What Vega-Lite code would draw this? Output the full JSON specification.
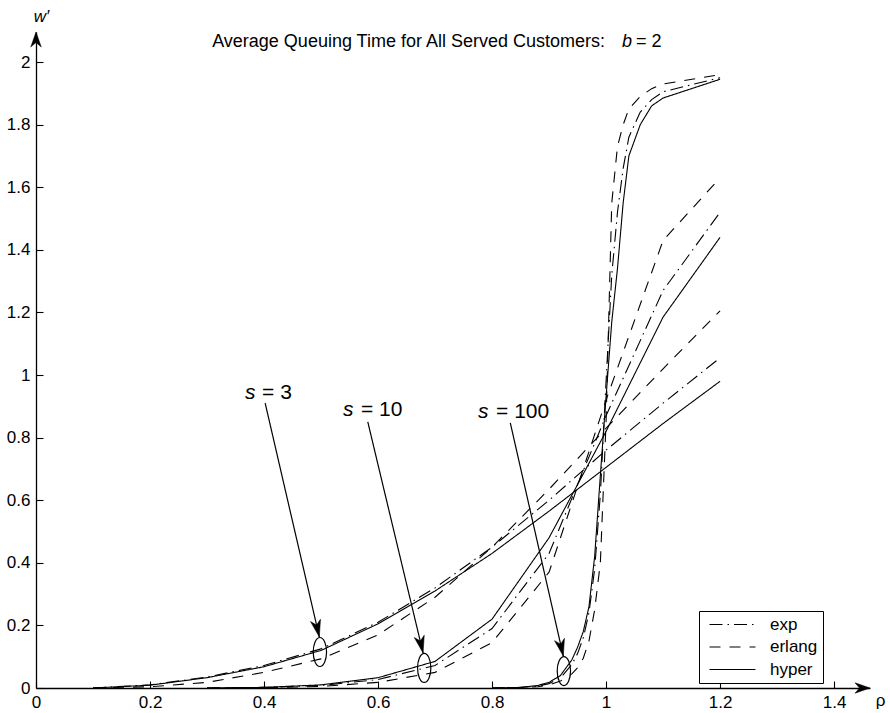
{
  "$schema": "https://vega.github.io/schema/vega-lite/v6.json",
  "width": 834,
  "height": 656,
  "autosize": {"type": "none"},
  "padding": {"left": 36, "top": 32, "right": 20, "bottom": 25},
  "background": "white",
  "config": {"view": {"stroke": null}, "font": "Liberation Sans"},
  "datasets": {
    "curves": [
      {"s": "3", "dist": "hyper", "rho": 0.1, "w": 0},
      {"s": "3", "dist": "hyper", "rho": 0.2, "w": 0.009},
      {"s": "3", "dist": "hyper", "rho": 0.3, "w": 0.033},
      {"s": "3", "dist": "hyper", "rho": 0.4, "w": 0.068},
      {"s": "3", "dist": "hyper", "rho": 0.5, "w": 0.12},
      {"s": "3", "dist": "hyper", "rho": 0.6, "w": 0.205},
      {"s": "3", "dist": "hyper", "rho": 0.7, "w": 0.31},
      {"s": "3", "dist": "hyper", "rho": 0.8, "w": 0.43},
      {"s": "3", "dist": "hyper", "rho": 0.9, "w": 0.565},
      {"s": "3", "dist": "hyper", "rho": 1.0, "w": 0.705},
      {"s": "3", "dist": "hyper", "rho": 1.1, "w": 0.845},
      {"s": "3", "dist": "hyper", "rho": 1.2, "w": 0.98},
      {"s": "3", "dist": "exp", "rho": 0.1, "w": 0},
      {"s": "3", "dist": "exp", "rho": 0.2, "w": 0.01},
      {"s": "3", "dist": "exp", "rho": 0.3, "w": 0.035},
      {"s": "3", "dist": "exp", "rho": 0.4, "w": 0.072},
      {"s": "3", "dist": "exp", "rho": 0.5, "w": 0.125},
      {"s": "3", "dist": "exp", "rho": 0.6, "w": 0.21},
      {"s": "3", "dist": "exp", "rho": 0.7, "w": 0.32},
      {"s": "3", "dist": "exp", "rho": 0.8, "w": 0.45},
      {"s": "3", "dist": "exp", "rho": 0.9, "w": 0.6},
      {"s": "3", "dist": "exp", "rho": 1.0, "w": 0.76},
      {"s": "3", "dist": "exp", "rho": 1.1, "w": 0.91},
      {"s": "3", "dist": "exp", "rho": 1.2, "w": 1.055},
      {"s": "3", "dist": "erlang", "rho": 0.1, "w": 0},
      {"s": "3", "dist": "erlang", "rho": 0.2, "w": 0.004},
      {"s": "3", "dist": "erlang", "rho": 0.3, "w": 0.018},
      {"s": "3", "dist": "erlang", "rho": 0.4, "w": 0.05},
      {"s": "3", "dist": "erlang", "rho": 0.5, "w": 0.093},
      {"s": "3", "dist": "erlang", "rho": 0.6, "w": 0.17},
      {"s": "3", "dist": "erlang", "rho": 0.7, "w": 0.29},
      {"s": "3", "dist": "erlang", "rho": 0.8, "w": 0.45},
      {"s": "3", "dist": "erlang", "rho": 0.9, "w": 0.635},
      {"s": "3", "dist": "erlang", "rho": 1.0, "w": 0.83},
      {"s": "3", "dist": "erlang", "rho": 1.1, "w": 1.02},
      {"s": "3", "dist": "erlang", "rho": 1.2, "w": 1.205},
      {"s": "10", "dist": "hyper", "rho": 0.3, "w": 0},
      {"s": "10", "dist": "hyper", "rho": 0.4, "w": 0.002},
      {"s": "10", "dist": "hyper", "rho": 0.5, "w": 0.01},
      {"s": "10", "dist": "hyper", "rho": 0.6, "w": 0.033},
      {"s": "10", "dist": "hyper", "rho": 0.7, "w": 0.085},
      {"s": "10", "dist": "hyper", "rho": 0.8, "w": 0.22},
      {"s": "10", "dist": "hyper", "rho": 0.9, "w": 0.48},
      {"s": "10", "dist": "hyper", "rho": 1.0, "w": 0.82},
      {"s": "10", "dist": "hyper", "rho": 1.1, "w": 1.185},
      {"s": "10", "dist": "hyper", "rho": 1.2, "w": 1.44},
      {"s": "10", "dist": "exp", "rho": 0.3, "w": 0},
      {"s": "10", "dist": "exp", "rho": 0.4, "w": 0.002},
      {"s": "10", "dist": "exp", "rho": 0.5, "w": 0.008},
      {"s": "10", "dist": "exp", "rho": 0.6, "w": 0.027},
      {"s": "10", "dist": "exp", "rho": 0.7, "w": 0.072},
      {"s": "10", "dist": "exp", "rho": 0.8, "w": 0.19},
      {"s": "10", "dist": "exp", "rho": 0.9, "w": 0.43},
      {"s": "10", "dist": "exp", "rho": 1.0, "w": 0.87},
      {"s": "10", "dist": "exp", "rho": 1.1, "w": 1.27},
      {"s": "10", "dist": "exp", "rho": 1.2, "w": 1.52},
      {"s": "10", "dist": "erlang", "rho": 0.3, "w": 0},
      {"s": "10", "dist": "erlang", "rho": 0.4, "w": 0.001},
      {"s": "10", "dist": "erlang", "rho": 0.5, "w": 0.005},
      {"s": "10", "dist": "erlang", "rho": 0.6, "w": 0.018},
      {"s": "10", "dist": "erlang", "rho": 0.7, "w": 0.05},
      {"s": "10", "dist": "erlang", "rho": 0.8, "w": 0.145},
      {"s": "10", "dist": "erlang", "rho": 0.9, "w": 0.37},
      {"s": "10", "dist": "erlang", "rho": 1.0, "w": 0.92},
      {"s": "10", "dist": "erlang", "rho": 1.1, "w": 1.43},
      {"s": "10", "dist": "erlang", "rho": 1.2, "w": 1.63},
      {"s": "100", "dist": "hyper", "rho": 0.8, "w": 0},
      {"s": "100", "dist": "hyper", "rho": 0.85, "w": 0.002},
      {"s": "100", "dist": "hyper", "rho": 0.88, "w": 0.008},
      {"s": "100", "dist": "hyper", "rho": 0.9, "w": 0.018},
      {"s": "100", "dist": "hyper", "rho": 0.92, "w": 0.04},
      {"s": "100", "dist": "hyper", "rho": 0.94, "w": 0.09},
      {"s": "100", "dist": "hyper", "rho": 0.95, "w": 0.13},
      {"s": "100", "dist": "hyper", "rho": 0.96, "w": 0.18},
      {"s": "100", "dist": "hyper", "rho": 0.97, "w": 0.26},
      {"s": "100", "dist": "hyper", "rho": 0.98, "w": 0.42},
      {"s": "100", "dist": "hyper", "rho": 0.99, "w": 0.68},
      {"s": "100", "dist": "hyper", "rho": 1.0, "w": 0.93},
      {"s": "100", "dist": "hyper", "rho": 1.01, "w": 1.17},
      {"s": "100", "dist": "hyper", "rho": 1.02, "w": 1.34},
      {"s": "100", "dist": "hyper", "rho": 1.03, "w": 1.55},
      {"s": "100", "dist": "hyper", "rho": 1.04, "w": 1.7},
      {"s": "100", "dist": "hyper", "rho": 1.06, "w": 1.8},
      {"s": "100", "dist": "hyper", "rho": 1.08, "w": 1.86},
      {"s": "100", "dist": "hyper", "rho": 1.1, "w": 1.885},
      {"s": "100", "dist": "hyper", "rho": 1.2, "w": 1.945},
      {"s": "100", "dist": "exp", "rho": 0.8, "w": 0},
      {"s": "100", "dist": "exp", "rho": 0.85, "w": 0.002},
      {"s": "100", "dist": "exp", "rho": 0.88, "w": 0.006},
      {"s": "100", "dist": "exp", "rho": 0.9, "w": 0.014},
      {"s": "100", "dist": "exp", "rho": 0.92, "w": 0.032},
      {"s": "100", "dist": "exp", "rho": 0.94, "w": 0.075},
      {"s": "100", "dist": "exp", "rho": 0.95, "w": 0.11},
      {"s": "100", "dist": "exp", "rho": 0.96, "w": 0.16},
      {"s": "100", "dist": "exp", "rho": 0.97, "w": 0.24},
      {"s": "100", "dist": "exp", "rho": 0.98, "w": 0.38},
      {"s": "100", "dist": "exp", "rho": 0.99, "w": 0.62},
      {"s": "100", "dist": "exp", "rho": 1.0, "w": 0.98},
      {"s": "100", "dist": "exp", "rho": 1.01, "w": 1.32},
      {"s": "100", "dist": "exp", "rho": 1.02, "w": 1.52},
      {"s": "100", "dist": "exp", "rho": 1.03, "w": 1.66},
      {"s": "100", "dist": "exp", "rho": 1.04, "w": 1.76},
      {"s": "100", "dist": "exp", "rho": 1.06, "w": 1.84},
      {"s": "100", "dist": "exp", "rho": 1.08, "w": 1.88},
      {"s": "100", "dist": "exp", "rho": 1.1, "w": 1.905},
      {"s": "100", "dist": "exp", "rho": 1.2, "w": 1.95},
      {"s": "100", "dist": "erlang", "rho": 0.8, "w": 0},
      {"s": "100", "dist": "erlang", "rho": 0.85, "w": 0.001},
      {"s": "100", "dist": "erlang", "rho": 0.88, "w": 0.004},
      {"s": "100", "dist": "erlang", "rho": 0.9, "w": 0.01},
      {"s": "100", "dist": "erlang", "rho": 0.92, "w": 0.022},
      {"s": "100", "dist": "erlang", "rho": 0.94, "w": 0.045},
      {"s": "100", "dist": "erlang", "rho": 0.95, "w": 0.065},
      {"s": "100", "dist": "erlang", "rho": 0.96, "w": 0.095},
      {"s": "100", "dist": "erlang", "rho": 0.97, "w": 0.15},
      {"s": "100", "dist": "erlang", "rho": 0.98, "w": 0.25},
      {"s": "100", "dist": "erlang", "rho": 0.99, "w": 0.4},
      {"s": "100", "dist": "erlang", "rho": 1.0, "w": 0.85},
      {"s": "100", "dist": "erlang", "rho": 1.01, "w": 1.55},
      {"s": "100", "dist": "erlang", "rho": 1.02, "w": 1.73},
      {"s": "100", "dist": "erlang", "rho": 1.03, "w": 1.8},
      {"s": "100", "dist": "erlang", "rho": 1.04, "w": 1.85},
      {"s": "100", "dist": "erlang", "rho": 1.06, "w": 1.89},
      {"s": "100", "dist": "erlang", "rho": 1.08, "w": 1.915},
      {"s": "100", "dist": "erlang", "rho": 1.1, "w": 1.93},
      {"s": "100", "dist": "erlang", "rho": 1.2, "w": 1.96}
    ],
    "ellipses": [
      {"s": "3", "rho": 0.498, "w": 0.115},
      {"s": "10", "rho": 0.681, "w": 0.064},
      {"s": "100", "rho": 0.926, "w": 0.054}
    ],
    "arrows": [
      {"s": "3", "end": "start", "rho": 0.402, "w": 0.91},
      {"s": "3", "end": "tip", "rho": 0.497, "w": 0.163},
      {"s": "10", "end": "start", "rho": 0.582, "w": 0.85},
      {"s": "10", "end": "tip", "rho": 0.679, "w": 0.112},
      {"s": "100", "end": "start", "rho": 0.832, "w": 0.847},
      {"s": "100", "end": "tip", "rho": 0.925, "w": 0.102}
    ],
    "axisArrows": [
      {"axis": "y", "rho": 0, "w": 2.096},
      {"axis": "x", "rho": 1.463, "w": 0}
    ],
    "texts": [
      {"role": "title", "label": "Average Queuing Time for All Served Customers:", "rho": 0.309, "w": 2.048},
      {"role": "titleVar", "label": "b", "rho": 1.028, "w": 2.048},
      {"role": "title", "label": "= 2", "rho": 1.0526, "w": 2.048},
      {"role": "annotVar", "label": "s", "rho": 0.3667, "w": 0.923},
      {"role": "annot", "label": "= 3", "rho": 0.3965, "w": 0.923},
      {"role": "annotVar", "label": "s", "rho": 0.5386, "w": 0.869},
      {"role": "annot", "label": "= 10", "rho": 0.57, "w": 0.869},
      {"role": "annotVar", "label": "s", "rho": 0.7754, "w": 0.863},
      {"role": "annot", "label": "= 100", "rho": 0.807, "w": 0.863}
    ]
  },
  "encoding": {
    "x": {
      "field": "rho",
      "type": "quantitative",
      "scale": {"domain": [0, 1.463], "nice": false, "zero": false},
      "axis": {
        "values": [0, 0.2, 0.4, 0.6, 0.8, 1, 1.2, 1.4],
        "format": "~g",
        "grid": false,
        "domainColor": "black",
        "domainWidth": 1.3,
        "tickColor": "black",
        "tickWidth": 1.1,
        "tickSize": -7,
        "labelPadding": 13,
        "labelFont": "Liberation Sans",
        "labelFontSize": 17,
        "labelColor": "black",
        "labelFlush": false,
        "title": "ρ",
        "titleFont": "Liberation Sans",
        "titleFontSize": 17,
        "titleFontWeight": "normal",
        "titleColor": "black",
        "titleAngle": 0,
        "titleAlign": "center",
        "titleBaseline": "middle",
        "titleX": 844,
        "titleY": 12
      }
    },
    "y": {
      "field": "w",
      "type": "quantitative",
      "scale": {"domain": [0, 2.096], "nice": false, "zero": false},
      "axis": {
        "values": [0, 0.2, 0.4, 0.6, 0.8, 1, 1.2, 1.4, 1.6, 1.8, 2],
        "format": "~g",
        "grid": false,
        "domainColor": "black",
        "domainWidth": 1.3,
        "tickColor": "black",
        "tickWidth": 1.1,
        "tickSize": -7,
        "labelPadding": 13,
        "labelFont": "Liberation Sans",
        "labelFontSize": 17,
        "labelColor": "black",
        "labelFlush": false,
        "title": "w′",
        "titleFont": "Liberation Sans",
        "titleFontSize": 17,
        "titleFontStyle": "italic",
        "titleFontWeight": "normal",
        "titleColor": "black",
        "titleAngle": 0,
        "titleAlign": "center",
        "titleBaseline": "middle",
        "titleX": 5,
        "titleY": -16
      }
    }
  },
  "layer": [
    {
      "data": {"name": "curves"},
      "mark": {"type": "line", "stroke": "black", "strokeWidth": 1.1},
      "encoding": {
        "detail": {"field": "s", "type": "nominal"},
        "strokeDash": {
          "field": "dist",
          "type": "nominal",
          "scale": {"domain": ["exp", "erlang", "hyper"], "range": [[13, 5, 1.5, 5], [11, 9], [1, 0]]},
          "legend": {
            "orient": "none",
            "legendX": 663,
            "legendY": 579,
            "title": null,
            "strokeColor": "black",
            "fillColor": "white",
            "padding": 5,
            "symbolType": "M-3,0 L3,0",
            "symbolSize": 235,
            "symbolOffset": 20,
            "symbolStrokeWidth": 1.2,
            "symbolStrokeColor": "black",
            "symbolFillColor": "transparent",
            "labelFont": "Liberation Sans",
            "labelFontSize": 17,
            "labelColor": "black",
            "labelOffset": 29,
            "rowPadding": 4.5
          }
        }
      }
    },
    {
      "data": {"name": "arrows"},
      "mark": {"type": "line", "stroke": "black", "strokeWidth": 1.2},
      "encoding": {"detail": {"field": "s", "type": "nominal"}}
    },
    {
      "data": {"name": "arrows"},
      "transform": [{"filter": "datum.end === 'tip'"}],
      "mark": {"type": "point", "shape": "M0,0 L-0.3,-1 L0,-0.72 L0.3,-1 Z", "size": 1156, "filled": true, "fill": "black", "stroke": "black", "strokeWidth": 0.5, "opacity": 1, "angle": -13}
    },
    {
      "data": {"name": "ellipses"},
      "mark": {"type": "point", "shape": "M0,-1 A0.46,1 0 1,1 0,1 A0.46,1 0 1,1 0,-1 Z", "size": 841, "filled": false, "stroke": "black", "strokeWidth": 1.2, "opacity": 1}
    },
    {
      "data": {"name": "axisArrows"},
      "transform": [{"filter": "datum.axis === 'y'"}],
      "mark": {"type": "point", "shape": "M0,0 L-0.35,1 L0,0.7 L0.35,1 Z", "size": 900, "filled": true, "fill": "black", "stroke": "black", "strokeWidth": 0.5, "opacity": 1, "angle": 0}
    },
    {
      "data": {"name": "axisArrows"},
      "transform": [{"filter": "datum.axis === 'x'"}],
      "mark": {"type": "point", "shape": "M0,0 L-0.35,1 L0,0.7 L0.35,1 Z", "size": 900, "filled": true, "fill": "black", "stroke": "black", "strokeWidth": 0.5, "opacity": 1, "angle": 90}
    },
    {
      "data": {"name": "texts"},
      "transform": [{"filter": "datum.role === 'title'"}],
      "mark": {"type": "text", "align": "left", "baseline": "alphabetic", "font": "Liberation Sans", "fontSize": 18, "fill": "black"},
      "encoding": {"text": {"field": "label"}}
    },
    {
      "data": {"name": "texts"},
      "transform": [{"filter": "datum.role === 'titleVar'"}],
      "mark": {"type": "text", "align": "left", "baseline": "alphabetic", "font": "Liberation Sans", "fontSize": 18, "fontStyle": "italic", "fill": "black"},
      "encoding": {"text": {"field": "label"}}
    },
    {
      "data": {"name": "texts"},
      "transform": [{"filter": "datum.role === 'annot'"}],
      "mark": {"type": "text", "align": "left", "baseline": "alphabetic", "font": "Liberation Sans", "fontSize": 21, "fill": "black"},
      "encoding": {"text": {"field": "label"}}
    },
    {
      "data": {"name": "texts"},
      "transform": [{"filter": "datum.role === 'annotVar'"}],
      "mark": {"type": "text", "align": "left", "baseline": "alphabetic", "font": "Liberation Sans", "fontSize": 21, "fontStyle": "italic", "fill": "black"},
      "encoding": {"text": {"field": "label"}}
    }
  ]
}
